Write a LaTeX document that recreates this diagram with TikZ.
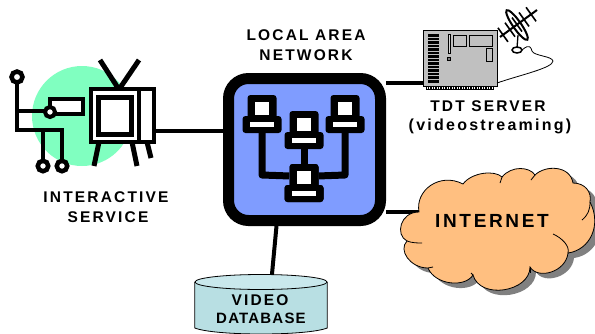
\documentclass[tikz,border=0pt]{standalone}
\usepackage{fontspec}
\setmainfont{Liberation Sans}[LetterSpace=14]
\newfontfamily\tightfont{Liberation Sans}[LetterSpace=8]
\usetikzlibrary{positioning,calc}
\definecolor{lanblue}{HTML}{7F9CFF}
\definecolor{mint}{HTML}{80FFC0}
\definecolor{cloudorange}{HTML}{FFBF80}
\definecolor{dbbody}{HTML}{B8DFE3}
\definecolor{dbtop}{HTML}{C9E8EC}
\definecolor{srvgray}{HTML}{C0C0C0}
\tikzset{
  lbltext/.style={font=\bfseries\fontsize{15.5}{15.5}\selectfont, inner sep=0pt},
  wire/.style={line width=4pt},
  thick4/.style={line width=4pt, draw=black},
  tvleg/.style={line width=5pt},
  port/.style={draw, line width=4.5pt, circle, fill=white, inner sep=0pt, minimum size=11pt},
  pcpart/.style={fill=black, rounded corners=3pt, inner sep=0pt},
  pclink/.style={line width=7pt, line join=round},
  thin1/.style={line width=0.8pt, draw=black}
}
% one computer of the network: monitor and base, named after #1
\newcommand{\pcbox}[3]{
  \node[pcpart, minimum width=29pt, minimum height=25pt] at (#2,#3+12.5) (#1m) {};
  \node[pcpart, minimum width=39pt, minimum height=17pt] at (#2,#3+29.5) (#1b) {};
  \fill[white] (#2-7,#3+7) rectangle (#2+7,#3+20);
  \fill[white] (#2-12,#3+27) rectangle (#2+12,#3+32);
}
\newcommand{\cloudoutline}{
  (419,212) .. controls (415,190) and (440,172) .. (463,184)
  .. controls (472,172) and (495,170) .. (502,177)
  .. controls (512,165) and (530,167) .. (535,175)
  .. controls (545,165) and (570,165) .. (573,183)
  .. controls (585,183) and (592,192) .. (590,202)
  .. controls (602,225) and (590,250) .. (568,253)
  .. controls (566,272) and (538,280) .. (530,267)
  .. controls (530,292) and (480,300) .. (473,275)
  .. controls (465,288) and (435,285) .. (428,268)
  .. controls (410,268) and (398,250) .. (407,241)
  .. controls (395,235) and (400,212) .. (419,212) -- cycle
}
\begin{document}
\begin{tikzpicture}[x=1pt, y=-1pt]
  \useasboundingbox (0,0) rectangle (595,333);

  % interactive service
  \fill[mint] (82,116) circle (50);
  \draw[thick4] (17,77) -- (17,130) -- (62,130) -- (62,166);
  \draw[thick4] (43,130) -- (43,166);
  \draw[thick4] (17,111) -- (50,111);
  \draw[thick4, fill=white] (50,99) rectangle (83,114);
  \node[port] at (17,77) (top) {};
  \node[port, minimum size=10pt, line width=4pt] at (50,112) (mid) {};
  \node[port, minimum size=10.5pt] at (43,166) (leftp) {};
  \node[port, minimum size=10.5pt] at (62,166) (rightp) {};

  \draw[tvleg] (118,88) -- (100,60);
  \draw[tvleg] (120,88) -- (139,60);
  \draw[tvleg] (99,142) -- (94,166);
  \draw[tvleg] (132,142) -- (137,166);
  \draw[tvleg] (147,142) -- (151,158);
  \node[draw, line width=4pt, fill=white, minimum width=63pt, minimum height=53pt, inner sep=0pt] at (122.5,115.5) (tv) {};
  \draw[line width=3.5pt] (139,89) -- (139,142);
  \draw[line width=5pt, fill=white] (98.5,97) rectangle (131,134);

  % wires
  \coordinate (tvport) at (tv.east |- 0,131);
  \coordinate (srvport) at (423,83);
  \coordinate (cloudport) at (419,212);
  \coordinate (dbport) at (272,274);
  \node[draw, line width=11pt, fill=lanblue, rounded corners=20pt, minimum width=152pt, minimum height=142pt, inner sep=0pt] at (304.5,149.5) (lan) {};
  \coordinate (lanport) at ($(lan.south)+(-28,0)$);
  \draw[wire] (tvport) -- (tvport -| lan.west);
  \draw[wire] (srvport) -- (srvport -| lan.east);
  \draw[wire] (cloudport) -- (cloudport -| lan.east);
  \draw[wire] (lanport) -- (dbport);

  % network inside the box
  \pcbox{pca}{262}{95}
  \pcbox{pcb}{304}{111}
  \pcbox{pcc}{345}{95}
  \pcbox{pcd}{304}{164}
  \draw[pclink] (pcab) -- (pcab |- 0,175) -- (pcdm);
  \draw[pclink] (pccb) -- (pccb |- 0,175) -- (pcdm);
  \draw[pclink] (pcbb) -- (pcdm);
  \pcbox{pcd}{304}{164}

  % server
  \node[thin1, fill=srvgray, minimum width=74pt, minimum height=56pt, inner sep=0pt] at (460,58) (srv) {};
  \fill (426,86) rectangle (494,90);
  \foreach \x in {427,429.5,...,493}
    \draw[white, line width=0.7pt] (\x,87) -- (\x,89);
  \fill (428,34) rectangle (439,83);
  \foreach \y in {37,40.5,...,82}
    \draw[srvgray, line width=1pt] (428,\y) -- (439,\y);
  \draw[thin1, fill=srvgray!60] (448,34) rectangle (450,53);
  \draw[thin1, fill=gray] (447,57) rectangle (450,60);
  \draw[thin1] (453,35) rectangle (466,46);
  \draw[thin1] (469,35) rectangle (492,46);
  \draw[thin1] (486,48) rectangle (492,61);

  % dish on the server
  \draw[thin1, line width=1.3pt] (518,35) -- (517,48);
  \draw[thin1, line width=1.5pt] (517,50) ellipse (5 and 3);
  \draw[thin1] (522,50) .. controls (530,43) and (531,48) .. (532,51)
    .. controls (534,56) and (552,56) .. (553,61)
    .. controls (553,68) and (520,75) .. (497,83);
  \draw[thin1, line width=2pt] (500,37) -- (537,10);
  \foreach \t in {0.08,0.27,0.46,0.65,0.84}
    \draw[thin1, line width=1.6pt] ($(500,37)!\t!(537,10)+(-5,-7)$) -- ($(500,37)!\t!(537,10)+(5,7)$);
  \draw[thin1, line width=2pt, rotate around={-55:(517,25)}] (517,25) ellipse (18 and 4);

  % cloud
  \fill[gray, shift={(6,5)}] \cloudoutline;
  \draw[thin1, fill=cloudorange] \cloudoutline;
  \draw[thin1] (553,234) .. controls (562,238) and (570,246) .. (568,253);
  \draw[thin1] (590,202) .. controls (590,210) and (588,215) .. (582,220);
  \draw[thin1] (502,177) -- (500,183);
  \draw[thin1] (535,175) -- (531,180);
  \draw[thin1] (407,241) .. controls (412,243) and (418,243) .. (422,243);
  \draw[thin1] (428,268) -- (433,267);
  \draw[thin1] (473,275) -- (471,273);
  \draw[thin1] (530,267) -- (530,273);

  % database
  \node[inner sep=0pt, minimum width=132pt, minimum height=59pt] at (261,303.5) (db) {};
  \draw[thin1, fill=dbbody] (db.west |- 0,282) -- (db.west |- 0,328)
    .. controls (215,336) and (307,336) .. (db.east |- 0,328) -- (db.east |- 0,282);
  \draw[thin1, fill=dbtop] (261,282) ellipse (66 and 7.5);

  % labels
  \node[lbltext] at (306,35) (lantop) {LOCAL AREA};
  \node[lbltext] at (306,55) (lanlow) {NETWORK};
  \node[lbltext] at (488,106) (srvtop) {TDT SERVER};
  \node[lbltext, font=\bfseries\fontsize{16}{16}\selectfont] at (490,126) (srvlow) {(videostreaming)};
  \node[lbltext] at (106,197) (svctop) {INTERACTIVE};
  \node[lbltext] at (108,217) (svclow) {SERVICE};
  \node[lbltext] at (260,300) (dbtoptext) {VIDEO};
  \node[lbltext, font=\tightfont\bfseries\fontsize{15}{15}\selectfont] at (261,318) (dblow) {DATABASE};
  \node[lbltext, font=\bfseries\fontsize{19}{19}\selectfont] at (492,221) (inet) {INTERNET};
\end{tikzpicture}
\end{document}
